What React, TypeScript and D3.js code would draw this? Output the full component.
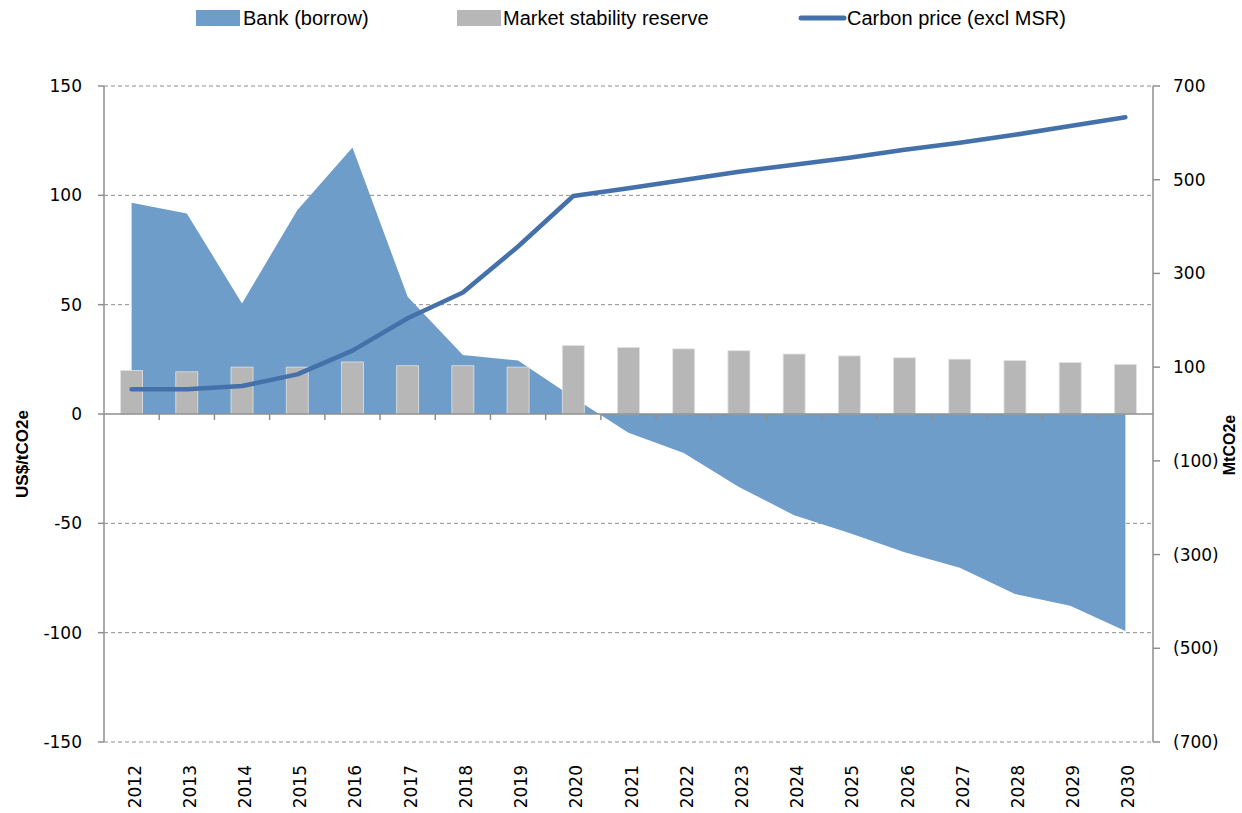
import React from "react";
import * as d3 from "d3";

const years = ["2012","2013","2014","2015","2016","2017","2018","2019","2020","2021","2022","2023","2024","2025","2026","2027","2028","2029","2030"];
const bank = [451, 428, 236, 435, 569, 250, 126, 114, 35, -40, -83, -156, -216, -254, -295, -328, -384, -409, -463];
const msr = [93, 90, 100, 100, 111, 103, 103, 100, 146, 142, 139, 135, 128, 124, 120, 117, 114, 110, 106];
const price = [11.3, 11.3, 12.8, 18.1, 29, 43.8, 55.6, 76.6, 99.7, 103.2, 107, 110.8, 114, 117.2, 120.8, 124, 127.7, 131.7, 135.7];
const leftTicks = [150, 100, 50, 0, -50, -100, -150];
const rightTicks = [700, 500, 300, 100, -100, -300, -500, -700];
const legendItems = ["Bank (borrow)", "Market stability reserve", "Carbon price (excl MSR)"];

const W = 1242, H = 813;
const L = 104, R = 1153, T = 86, B = 742;
const AREA = "#6f9dc9", BAR = "#b7b7b7", LINE = "#4471aa", GRID = "#8f8f8f", AXIS = "#8f8f8f";
const tickFont = "'DejaVu Sans', Verdana, sans-serif";
const textFont = "'Liberation Sans', Arial, sans-serif";

const fmtR = (v: number) => (v < 0 ? `(${Math.abs(v)})` : `${v}`);

export default function App() {
  const x = d3.scaleBand<string>().domain(years).range([L, R]);
  const cx = (y: string) => (x(y) as number) + x.bandwidth() / 2;
  const yL = d3.scaleLinear().domain([-150, 150]).range([B, T]);
  const yR = d3.scaleLinear().domain([-700, 700]).range([B, T]);
  const zeroY = yR(0);
  const barW = 22;

  const areaGen = d3.area<number>()
    .x((_, i) => cx(years[i]))
    .y0(zeroY)
    .y1((d) => yR(d));
  const lineGen = d3.line<number>()
    .x((_, i) => cx(years[i]))
    .y((d) => yL(d));

  const boundaries = years.map((_, i) => L + x.step() * i).slice(1);

  return (
    <svg width={W} height={H} style={{ position: "absolute", left: 0, top: 0, background: "#fff" }}>
      {/* gridlines */}
      {leftTicks.map((t) => (
        <line key={"g" + t} x1={L} x2={R} y1={yL(t)} y2={yL(t)} stroke={t === 0 ? "none" : GRID} strokeDasharray="4,3" strokeWidth={1} />
      ))}
      {/* bank area */}
      <path d={areaGen(bank) as string} fill={AREA} />
      {/* MSR bars */}
      {msr.map((v, i) => (
        <rect key={"b" + i} x={cx(years[i]) - barW / 2} y={yR(v)} width={barW} height={zeroY - yR(v)} fill={BAR} stroke="#e2e2e2" strokeWidth={0.8} />
      ))}
      {/* zero axis */}
      <line x1={L} x2={R} y1={zeroY} y2={zeroY} stroke={AXIS} strokeWidth={1.5} />
      {boundaries.map((bx, i) => (
        <line key={"ct" + i} x1={bx} x2={bx} y1={zeroY} y2={zeroY + 6} stroke={AXIS} strokeWidth={1.5} />
      ))}
      {/* left axis */}
      <line x1={L} x2={L} y1={T} y2={B} stroke={AXIS} strokeWidth={1.5} />
      {leftTicks.map((t) => (
        <g key={"lt" + t}>
          <line x1={L - 6} x2={L} y1={yL(t)} y2={yL(t)} stroke={AXIS} strokeWidth={1.5} />
          <text x={82} y={yL(t)} dy="0.35em" textAnchor="end" fontFamily={tickFont} fontSize={17} fill="#000">{t}</text>
        </g>
      ))}
      {/* right axis */}
      <line x1={R} x2={R} y1={T} y2={B} stroke={AXIS} strokeWidth={1.5} />
      {rightTicks.map((t) => (
        <g key={"rt" + t}>
          <line x1={R} x2={R + 7} y1={yR(t)} y2={yR(t)} stroke={AXIS} strokeWidth={1.5} />
          <text x={1173} y={yR(t)} dy="0.35em" textAnchor="start" fontFamily={tickFont} fontSize={17} fill="#000">{fmtR(t)}</text>
        </g>
      ))}
      {/* price line */}
      <path d={lineGen(price) as string} fill="none" stroke={LINE} strokeWidth={4.5} strokeLinejoin="round" strokeLinecap="round" />
      {/* year labels */}
      {years.map((yr) => (
        <text key={"y" + yr} transform={`translate(${cx(yr) + 9},765) rotate(-90)`} textAnchor="end" fontFamily={tickFont} fontSize={17} fill="#000">{yr}</text>
      ))}
      {/* axis titles */}
      <text transform="translate(28,454) rotate(-90)" textAnchor="middle" fontFamily={textFont} fontWeight="bold" fontSize={17} fill="#000">US$/tCO2e</text>
      <text transform="translate(1235,445) rotate(-90)" textAnchor="middle" fontFamily={textFont} fontWeight="bold" fontSize={16} fill="#000">MtCO2e</text>
      {/* legend */}
      <rect x={196} y={10} width={44} height={16} fill={AREA} />
      <text x={243} y={25} fontFamily={textFont} fontSize={20} fill="#000">{legendItems[0]}</text>
      <rect x={457} y={10} width={44} height={16} fill={BAR} />
      <text x={503} y={25} fontFamily={textFont} fontSize={20} fill="#000">{legendItems[1]}</text>
      <line x1={801} x2={844} y1={18} y2={18} stroke={LINE} strokeWidth={5} strokeLinecap="round" />
      <text x={847} y={25} fontFamily={textFont} fontSize={20} fill="#000">{legendItems[2]}</text>
    </svg>
  );
}
